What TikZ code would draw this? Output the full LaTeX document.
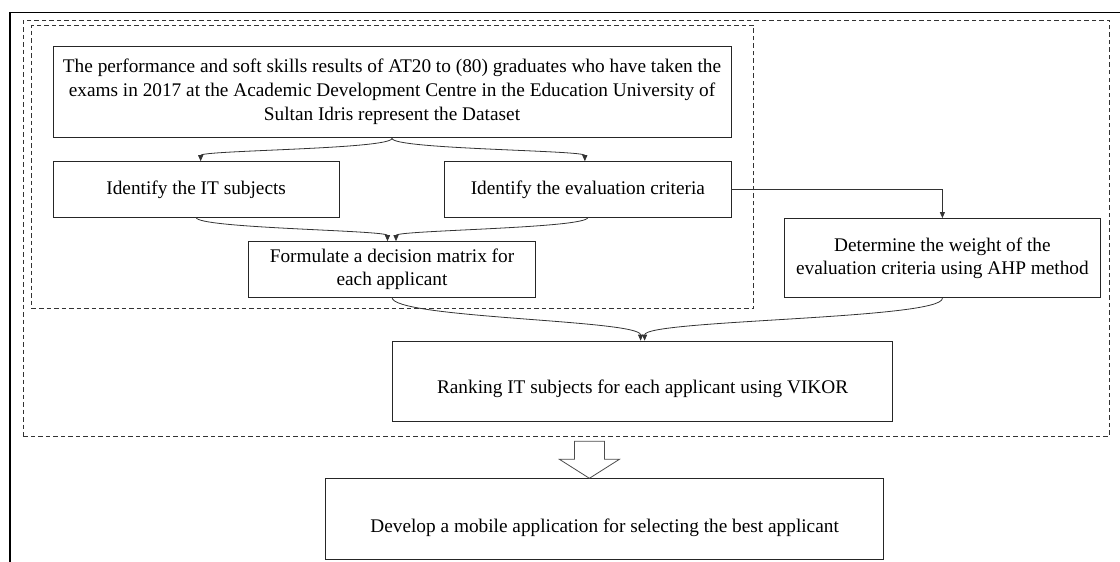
\documentclass[tikz,border=0pt]{standalone}
\usepackage{fontspec}
\setmainfont{Liberation Serif}
\usetikzlibrary{arrows.meta,positioning,fit}

\begin{document}
\begin{tikzpicture}[
  x=1pt,y=1pt,
  font=\fontsize{19.3}{23.8}\selectfont,
  box/.style={draw=black!85,line width=0.9pt,inner sep=0pt,align=center},
  grp/.style={draw=black!80,line width=0.8pt,dash pattern=on 4.5pt off 3pt,inner sep=0pt},
  flow/.style={-{Triangle[length=6pt,width=5pt]},draw=black!80,line width=0.8pt},
  low/.style={text height=#1,text depth=4pt},
]
\useasboundingbox (0,0) rectangle (1120,-562);
% page frame, cut by the page edge
\draw[line width=1.8pt] (10,-575) -- (10,-12.5) -- (1130,-12.5);
% dataset and the two identification steps
\node[box,minimum width=678pt,minimum height=91.7pt] (data) at (392,-92)
  {The performance and soft skills results of AT20 to (80) graduates who have taken the\\
   exams in 2017 at the Academic Development Centre in the Education University of\\
   Sultan Idris represent the Dataset};
\node[box,minimum width=286.3pt,minimum height=55.3pt,below right=22.9pt and 0pt of data.south west] (subj)
  {Identify the IT subjects};
\node[box,minimum width=286.3pt,minimum height=55.3pt,below left=22.9pt and 0pt of data.south east] (crit)
  {Identify the evaluation criteria};
\node[box,minimum width=286.7pt,minimum height=55.3pt,below=102.9pt of data.south] (matrix)
  {Formulate a decision matrix for\\ each applicant};
% weighting and ranking
\node[box,minimum width=316pt,minimum height=79.3pt,below right=0.7pt and 52.5pt of crit.south east] (weight)
  {Determine the weight of the\\ evaluation criteria using AHP method};
\node[box,low=27.7pt,minimum width=500.3pt,minimum height=80pt,below right=43.3pt and 0pt of matrix.south] (rank)
  {Ranking IT subjects for each applicant using VIKOR};
\node[box,low=29.9pt,minimum width=558.3pt,minimum height=81pt,below right=56.7pt and -67pt of rank.south west] (app)
  {Develop a mobile application for selecting the best applicant};
% dashed groups
\node[grp,fit={(31.7,-25) (753.3,-308.7)}] (inner) {};
\node[grp,fit={(23.3,-20) (1109.3,-436)}] (outer) {};
% connectors
\draw[flow] (data.south) .. controls +(0,-11) and +(0,11) .. ([xshift=4.5pt]subj.north);
\draw[flow] (data.south) .. controls +(0,-11) and +(0,11) .. ([xshift=-3pt]crit.north);
\draw[flow] (subj.south) .. controls +(0,-11) and +(0,11) .. ([xshift=-4.5pt]matrix.north);
\draw[flow] (crit.south) .. controls +(0,-11) and +(0,11) .. ([xshift=4pt]matrix.north);
\draw[flow] (crit.east) -| (weight.north);
\draw[flow] (matrix.south) .. controls +(0,-21) and +(0,21) .. ([xshift=-2pt]rank.north);
\draw[flow] (weight.south) .. controls +(0,-21) and +(0,21) .. ([xshift=2pt]rank.north);
% hollow arrow down to the application
\coordinate (tip) at ([xshift=-15.2pt]app.north);
\draw[black!70,line width=0.8pt] (tip) -- ++(-30,19) -- ++(15,0) -- ++(0,18)
  -- ++(30,0) -- ++(0,-18) -- ++(15,0) -- cycle;
\end{tikzpicture}
\end{document}
